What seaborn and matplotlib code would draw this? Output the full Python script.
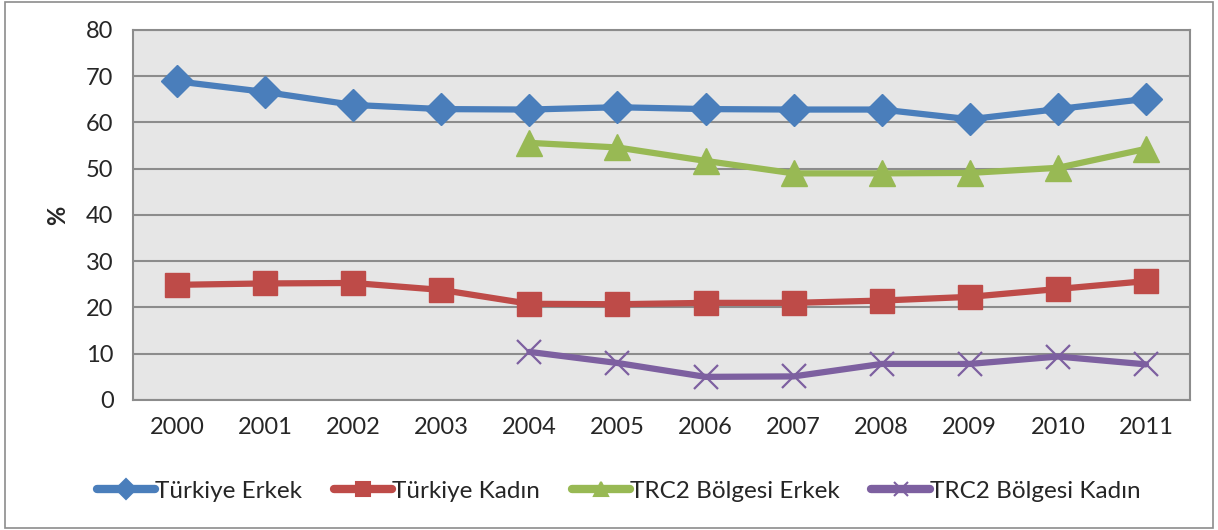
import numpy as np
import pandas as pd
import matplotlib.pyplot as plt
import seaborn as sns
from matplotlib.patches import Rectangle

years = [2000, 2001, 2002, 2003, 2004, 2005, 2006, 2007, 2008, 2009, 2010, 2011]
tr_erkek = [68.9, 66.6, 63.8, 62.9, 62.8, 63.3, 62.9, 62.8, 62.8, 60.7, 62.9, 65.1]
tr_kadin = [24.9, 25.2, 25.3, 23.8, 20.8, 20.7, 21.0, 21.0, 21.5, 22.3, 24.0, 25.7]
trc2_erkek = [np.nan] * 4 + [55.6, 54.6, 51.7, 49.0, 49.0, 49.1, 50.2, 54.3]
trc2_kadin = [np.nan] * 4 + [10.4, 8.0, 5.0, 5.1, 7.8, 7.8, 9.4, 7.7]

series = ["Türkiye Erkek", "Türkiye Kadın", "TRC2 Bölgesi Erkek", "TRC2 Bölgesi Kadın"]
colors = ["#4A7EBB", "#BE4B48", "#98B954", "#7D60A0"]
markers = ["D", "s", "^", "x"]
msizes = [16, 17, 19, 17]

sns.set_style("white")
plt.rcParams['font.family'] = ['Lato', 'DejaVu Sans']

fig = plt.figure(figsize=(12.18, 5.3), dpi=100)
ax = fig.add_axes([0.1092, 0.2453, 0.8678, 0.6981])
ax.set_facecolor("#E6E6E6")

# one lineplot per series (filled and line markers can't be mixed in one call)
for name, vals, c, m, ms in zip(series, [tr_erkek, tr_kadin, trc2_erkek, trc2_kadin],
                                colors, markers, msizes):
    d = pd.DataFrame({"Yıl": years, "Değer": vals}).dropna()
    sns.lineplot(data=d, x="Yıl", y="Değer", color=c, marker=m, markersize=ms,
                 markeredgecolor=c, markeredgewidth=1.6 if m == "x" else 1.0,
                 linewidth=4.5, ax=ax, label=name, legend=False)

ax.set_xlim(1999.5, 2011.5)
ax.set_ylim(0, 80)
ax.set_xticks(years)
ax.set_xticklabels([str(y) for y in years])
ax.set_yticks(range(0, 81, 10))
ax.yaxis.grid(True, color="#8C8C8C", linewidth=1.5)
ax.set_axisbelow(True)
for s in ax.spines.values():
    s.set_color("#8C8C8C")
    s.set_linewidth(1.5)
ax.tick_params(axis="both", labelsize=17, length=0, pad=12)
ax.tick_params(axis="y", pad=14)
ax.set_xlabel("")
ax.set_ylabel("%", fontsize=17, fontweight="bold", labelpad=12)

handles = [plt.Line2D([], [], color=c, marker=m, linewidth=6, markersize=10,
                      markeredgewidth=1.5, markeredgecolor=c)
           for c, m in zip(colors, markers)]
fig.legend(handles, series, loc="center", bbox_to_anchor=(0.508, 0.073), ncol=4,
           frameon=False, fontsize=17.5, handlelength=2.4, handletextpad=0.0,
           columnspacing=1.3)

fig.patches.append(Rectangle((0.004, 0.004), 0.992, 0.992, transform=fig.transFigure,
                             fill=False, edgecolor="#8C8C8C", linewidth=1.2))

fig.savefig("out.png", dpi=100)
